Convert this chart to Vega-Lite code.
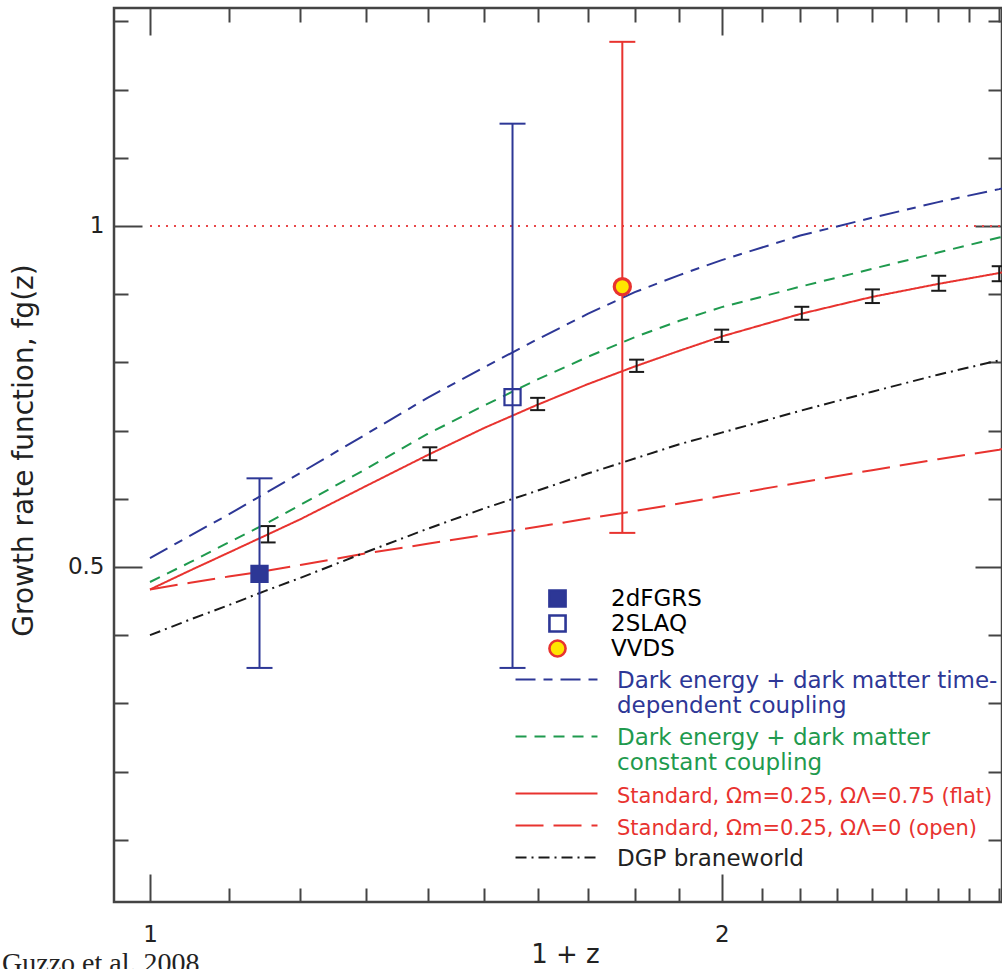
{
  "$schema": "https://vega.github.io/schema/vega-lite/v6.json",
  "width": 888,
  "height": 894,
  "autosize": {"type": "none"},
  "padding": {"left": 114, "top": 8, "right": 0, "bottom": 67},
  "title": {"text": "Guzzo et al. 2008", "orient": "bottom", "anchor": "start", "frame": "group", "font": "Liberation Serif", "fontSize": 28, "fontWeight": "normal", "color": "#222", "dx": -112, "offset": -17, "baseline": "top"},
  "config": {
    "font": "DejaVu Sans",
    "view": {"stroke": "#444", "strokeWidth": 2.5},
    "axis": {"grid": false, "labelColor": "#222", "tickColor": "#444", "tickWidth": 2, "titleColor": "#222", "labelFont": "DejaVu Sans", "titleFont": "DejaVu Sans"},
    "legend": {"labelFont": "DejaVu Sans", "labelFontSize": 23, "padding": 0, "labelLimit": 1000}
  },
  "datasets": {
    "unity": [{"x": 1, "y": 1}, {"x": 2.8095, "y": 1}],
    "curves": [
      {"model": "time", "x": 1.0, "y": 0.513}, {"model": "time", "x": 1.05, "y": 0.546}, {"model": "time", "x": 1.1, "y": 0.577}, {"model": "time", "x": 1.15, "y": 0.608}, {"model": "time", "x": 1.2, "y": 0.638}, {"model": "time", "x": 1.3, "y": 0.695}, {"model": "time", "x": 1.4, "y": 0.748}, {"model": "time", "x": 1.5, "y": 0.793}, {"model": "time", "x": 1.6, "y": 0.834}, {"model": "time", "x": 1.7, "y": 0.871}, {"model": "time", "x": 1.8, "y": 0.903}, {"model": "time", "x": 1.9, "y": 0.928}, {"model": "time", "x": 2.0, "y": 0.950}, {"model": "time", "x": 2.2, "y": 0.986}, {"model": "time", "x": 2.4, "y": 1.012}, {"model": "time", "x": 2.6, "y": 1.035}, {"model": "time", "x": 2.8, "y": 1.054}, {"model": "time", "x": 2.8095, "y": 1.055},
      {"model": "const", "x": 1.0, "y": 0.478}, {"model": "const", "x": 1.05, "y": 0.507}, {"model": "const", "x": 1.1, "y": 0.536}, {"model": "const", "x": 1.15, "y": 0.563}, {"model": "const", "x": 1.2, "y": 0.591}, {"model": "const", "x": 1.3, "y": 0.644}, {"model": "const", "x": 1.4, "y": 0.695}, {"model": "const", "x": 1.5, "y": 0.737}, {"model": "const", "x": 1.6, "y": 0.775}, {"model": "const", "x": 1.7, "y": 0.808}, {"model": "const", "x": 1.8, "y": 0.837}, {"model": "const", "x": 1.9, "y": 0.861}, {"model": "const", "x": 2.0, "y": 0.881}, {"model": "const", "x": 2.2, "y": 0.911}, {"model": "const", "x": 2.4, "y": 0.937}, {"model": "const", "x": 2.6, "y": 0.961}, {"model": "const", "x": 2.8, "y": 0.983}, {"model": "const", "x": 2.8095, "y": 0.984},
      {"model": "flat", "x": 1.0, "y": 0.467}, {"model": "flat", "x": 1.05, "y": 0.495}, {"model": "flat", "x": 1.1, "y": 0.521}, {"model": "flat", "x": 1.15, "y": 0.546}, {"model": "flat", "x": 1.2, "y": 0.570}, {"model": "flat", "x": 1.3, "y": 0.619}, {"model": "flat", "x": 1.4, "y": 0.664}, {"model": "flat", "x": 1.5, "y": 0.704}, {"model": "flat", "x": 1.6, "y": 0.738}, {"model": "flat", "x": 1.7, "y": 0.768}, {"model": "flat", "x": 1.8, "y": 0.794}, {"model": "flat", "x": 1.9, "y": 0.817}, {"model": "flat", "x": 2.0, "y": 0.838}, {"model": "flat", "x": 2.2, "y": 0.871}, {"model": "flat", "x": 2.4, "y": 0.896}, {"model": "flat", "x": 2.6, "y": 0.915}, {"model": "flat", "x": 2.8, "y": 0.931}, {"model": "flat", "x": 2.8095, "y": 0.932},
      {"model": "open", "x": 1.0, "y": 0.467}, {"model": "open", "x": 1.05, "y": 0.477}, {"model": "open", "x": 1.1, "y": 0.486}, {"model": "open", "x": 1.15, "y": 0.494}, {"model": "open", "x": 1.2, "y": 0.503}, {"model": "open", "x": 1.3, "y": 0.520}, {"model": "open", "x": 1.4, "y": 0.534}, {"model": "open", "x": 1.5, "y": 0.547}, {"model": "open", "x": 1.6, "y": 0.559}, {"model": "open", "x": 1.7, "y": 0.571}, {"model": "open", "x": 1.8, "y": 0.582}, {"model": "open", "x": 1.9, "y": 0.593}, {"model": "open", "x": 2.0, "y": 0.604}, {"model": "open", "x": 2.2, "y": 0.624}, {"model": "open", "x": 2.4, "y": 0.642}, {"model": "open", "x": 2.6, "y": 0.658}, {"model": "open", "x": 2.8, "y": 0.672}, {"model": "open", "x": 2.8095, "y": 0.673},
      {"model": "dgp", "x": 1.0, "y": 0.400}, {"model": "dgp", "x": 1.05, "y": 0.423}, {"model": "dgp", "x": 1.1, "y": 0.444}, {"model": "dgp", "x": 1.15, "y": 0.465}, {"model": "dgp", "x": 1.2, "y": 0.484}, {"model": "dgp", "x": 1.3, "y": 0.522}, {"model": "dgp", "x": 1.4, "y": 0.556}, {"model": "dgp", "x": 1.5, "y": 0.586}, {"model": "dgp", "x": 1.6, "y": 0.612}, {"model": "dgp", "x": 1.7, "y": 0.637}, {"model": "dgp", "x": 1.8, "y": 0.659}, {"model": "dgp", "x": 1.9, "y": 0.680}, {"model": "dgp", "x": 2.0, "y": 0.697}, {"model": "dgp", "x": 2.2, "y": 0.729}, {"model": "dgp", "x": 2.4, "y": 0.757}, {"model": "dgp", "x": 2.6, "y": 0.782}, {"model": "dgp", "x": 2.8, "y": 0.803}, {"model": "dgp", "x": 2.8095, "y": 0.804}
    ],
    "forecast": [
      {"x": 1.154, "y": 0.548, "lo": 0.536, "hi": 0.560},
      {"x": 1.404, "y": 0.666, "lo": 0.6565, "hi": 0.6755},
      {"x": 1.600, "y": 0.739, "lo": 0.730, "hi": 0.748},
      {"x": 1.804, "y": 0.795, "lo": 0.786, "hi": 0.804},
      {"x": 2.000, "y": 0.839, "lo": 0.830, "hi": 0.848},
      {"x": 2.204, "y": 0.872, "lo": 0.8625, "hi": 0.8815},
      {"x": 2.401, "y": 0.897, "lo": 0.887, "hi": 0.907},
      {"x": 2.602, "y": 0.916, "lo": 0.905, "hi": 0.927},
      {"x": 2.800, "y": 0.930, "lo": 0.919, "hi": 0.941}
    ],
    "obs": [
      {"survey": "2dFGRS", "x": 1.142, "y": 0.490, "lo": 0.352, "hi": 0.630},
      {"survey": "2SLAQ", "x": 1.552, "y": 0.749, "lo": 0.352, "hi": 1.150},
      {"survey": "VVDS", "x": 1.773, "y": 0.911, "lo": 0.550, "hi": 1.270}
    ]
  },
  "resolve": {"axis": {"x": "independent", "y": "independent"}},
  "layer": [
    {
      "data": {"name": "unity"},
      "mark": {"type": "line", "color": "#e8484a", "strokeWidth": 2, "strokeDash": [2, 6]},
      "encoding": {
        "x": {"field": "x", "type": "quantitative", "scale": {"type": "log", "domain": [0.9573, 2.8095], "nice": false},
          "axis": {"orient": "top", "values": [1, 1.1, 1.2, 1.3, 1.4, 1.5, 1.6, 1.7, 1.8, 1.9, 2, 2.1, 2.2, 2.3, 2.4, 2.5, 2.6, 2.7, 2.8], "labels": false, "domain": false, "title": null,
            "tickSize": {"condition": {"test": "datum.value == 1 || datum.value == 2", "value": -27}, "value": -14}}},
        "y": {"field": "y", "type": "quantitative", "scale": {"domain": [0.0088, 1.3196], "nice": false, "zero": false},
          "axis": {"orient": "right", "values": [0.1, 0.2, 0.3, 0.4, 0.5, 0.6, 0.7, 0.8, 0.9, 1, 1.1, 1.2, 1.3], "labels": false, "domain": false, "title": null,
            "tickSize": {"condition": {"test": "datum.value == 0.5 || datum.value == 1", "value": -27}, "value": -14}}}
      }
    },
    {
      "data": {"name": "curves"},
      "mark": {"type": "line", "strokeWidth": 2},
      "encoding": {
        "x": {"field": "x", "type": "quantitative", "scale": {"type": "log", "domain": [0.9573, 2.8095], "nice": false},
          "axis": {"orient": "bottom", "values": [1, 2], "ticks": false, "domain": false, "format": "~g", "labelFontSize": 23, "labelPadding": 21,
            "title": "1 + z", "titleFontSize": 26, "titleFontWeight": "normal", "titleX": 451, "titleY": 52, "titleBaseline": "middle", "titleAlign": "center"}},
        "y": {"field": "y", "type": "quantitative", "scale": {"domain": [0.0088, 1.3196], "nice": false, "zero": false},
          "axis": {"orient": "left", "values": [0.5, 1], "ticks": false, "domain": false, "format": "~g", "labelFontSize": 23, "labelPadding": 10,
            "title": "Growth rate function, fg(z)", "titleFontSize": 28, "titleFontWeight": "normal", "titleX": -90, "titleY": 442, "titleAngle": -90, "titleBaseline": "middle", "titleAlign": "center"}},
        "color": {"field": "model", "type": "nominal",
          "scale": {"domain": ["time", "const", "flat", "open", "dgp"], "range": ["#2d3796", "#1f9a4e", "#e8332f", "#e8332f", "#1a1a1a"]},
          "legend": {"orient": "none", "legendX": 431, "legendY": 660, "title": null, "symbolType": "M-4,0H4", "symbolSize": 420, "symbolStrokeWidth": 2,
            "labelFontSize": 23, "labelBaseline": "top", "labelOffset": 49, "rowPadding": 7, "labelLimit": 1000,
            "labelExpr": "datum.value == 'time' ? ['Dark energy + dark matter time-', 'dependent coupling'] : datum.value == 'const' ? ['Dark energy + dark matter', 'constant coupling'] : datum.value == 'flat' ? 'Standard, Ωm=0.25, ΩΛ=0.75 (flat)' : datum.value == 'open' ? 'Standard, Ωm=0.25, ΩΛ=0 (open)' : 'DGP braneworld'",
            "encode": {"labels": {"update": {
              "fill": {"signal": "datum.value == 'time' ? '#2d3796' : datum.value == 'const' ? '#1f9a4e' : datum.value == 'dgp' ? '#222222' : '#e8332f'"},
              "fontSize": {"signal": "datum.value == 'flat' || datum.value == 'open' ? 21 : 23"},
              "dy": {"signal": "datum.value == 'flat' || datum.value == 'open' ? -8 : -10"},
              "lineHeight": {"value": 25}}}}}},
        "strokeDash": {"field": "model", "type": "nominal",
          "scale": {"domain": ["time", "const", "flat", "open", "dgp"], "range": [[20, 8, 9, 8], [11, 8], [1, 0], [28, 10], [11, 5, 2, 5]]}}
      }
    },
    {
      "data": {"name": "forecast"},
      "mark": {"type": "rule", "color": "#1a1a1a", "strokeWidth": 2},
      "encoding": {
        "x": {"field": "x", "type": "quantitative", "scale": {"type": "log", "domain": [0.9573, 2.8095], "nice": false},
          "axis": {"orient": "bottom", "values": [1, 1.1, 1.2, 1.3, 1.4, 1.5, 1.6, 1.7, 1.8, 1.9, 2, 2.1, 2.2, 2.3, 2.4, 2.5, 2.6, 2.7, 2.8], "labels": false, "domain": false, "title": null,
            "tickSize": {"condition": {"test": "datum.value == 1 || datum.value == 2", "value": -28}, "value": -14}}},
        "y": {"field": "lo", "type": "quantitative", "scale": {"domain": [0.0088, 1.3196], "nice": false, "zero": false},
          "axis": {"orient": "left", "values": [0.1, 0.2, 0.3, 0.4, 0.5, 0.6, 0.7, 0.8, 0.9, 1, 1.1, 1.2, 1.3], "labels": false, "domain": false, "title": null,
            "tickSize": {"condition": {"test": "datum.value == 0.5 || datum.value == 1", "value": -28}, "value": -14}}},
        "y2": {"field": "hi"}
      }
    },
    {
      "data": {"name": "forecast"},
      "mark": {"type": "tick", "orient": "horizontal", "size": 15, "thickness": 2, "color": "#1a1a1a", "opacity": 1},
      "encoding": {
        "x": {"field": "x", "type": "quantitative", "scale": {"type": "log", "domain": [0.9573, 2.8095], "nice": false}, "axis": null},
        "y": {"field": "lo", "type": "quantitative", "scale": {"domain": [0.0088, 1.3196], "nice": false, "zero": false}, "axis": null}
      }
    },
    {
      "data": {"name": "forecast"},
      "mark": {"type": "tick", "orient": "horizontal", "size": 15, "thickness": 2, "color": "#1a1a1a", "opacity": 1},
      "encoding": {
        "x": {"field": "x", "type": "quantitative", "scale": {"type": "log", "domain": [0.9573, 2.8095], "nice": false}, "axis": null},
        "y": {"field": "hi", "type": "quantitative", "scale": {"domain": [0.0088, 1.3196], "nice": false, "zero": false}, "axis": null}
      }
    },
    {
      "data": {"name": "obs"},
      "mark": {"type": "rule", "strokeWidth": 2},
      "encoding": {
        "x": {"field": "x", "type": "quantitative", "scale": {"type": "log", "domain": [0.9573, 2.8095], "nice": false}, "axis": null},
        "y": {"field": "lo", "type": "quantitative", "scale": {"domain": [0.0088, 1.3196], "nice": false, "zero": false}, "axis": null},
        "y2": {"field": "hi"},
        "color": {"condition": {"test": "datum.survey == 'VVDS'", "value": "#e8332f"}, "value": "#2d3796"}
      }
    },
    {
      "data": {"name": "obs"},
      "mark": {"type": "tick", "orient": "horizontal", "size": 26, "thickness": 2, "opacity": 1},
      "encoding": {
        "x": {"field": "x", "type": "quantitative", "scale": {"type": "log", "domain": [0.9573, 2.8095], "nice": false}, "axis": null},
        "y": {"field": "lo", "type": "quantitative", "scale": {"domain": [0.0088, 1.3196], "nice": false, "zero": false}, "axis": null},
        "color": {"condition": {"test": "datum.survey == 'VVDS'", "value": "#e8332f"}, "value": "#2d3796"}
      }
    },
    {
      "data": {"name": "obs"},
      "mark": {"type": "tick", "orient": "horizontal", "size": 26, "thickness": 2, "opacity": 1},
      "encoding": {
        "x": {"field": "x", "type": "quantitative", "scale": {"type": "log", "domain": [0.9573, 2.8095], "nice": false}, "axis": null},
        "y": {"field": "hi", "type": "quantitative", "scale": {"domain": [0.0088, 1.3196], "nice": false, "zero": false}, "axis": null},
        "color": {"condition": {"test": "datum.survey == 'VVDS'", "value": "#e8332f"}, "value": "#2d3796"}
      }
    },
    {
      "data": {"name": "obs"},
      "mark": {"type": "point", "strokeWidth": 2.5, "opacity": 1},
      "encoding": {
        "x": {"field": "x", "type": "quantitative", "scale": {"type": "log", "domain": [0.9573, 2.8095], "nice": false}, "axis": null},
        "y": {"field": "y", "type": "quantitative", "scale": {"domain": [0.0088, 1.3196], "nice": false, "zero": false}, "axis": null},
        "strokeWidth": {"condition": {"test": "datum.survey == 'VVDS'", "value": 3.2}, "value": 2.2},
        "shape": {"field": "survey", "type": "nominal", "scale": {"domain": ["2dFGRS", "2SLAQ", "VVDS"], "range": ["square", "square", "circle"]},
          "legend": {"orient": "none", "legendX": 432, "legendY": 579, "title": null, "labelFontSize": 23, "labelOffset": 42, "rowPadding": -3, "symbolStrokeWidth": 2.6, "labelLimit": 1000,
            "encode": {"labels": {"update": {"fill": {"signal": "datum.value == 'VVDS' ? '#e8332f' : '#222222'"}}}}}},
        "fill": {"field": "survey", "type": "nominal", "scale": {"domain": ["2dFGRS", "2SLAQ", "VVDS"], "range": ["#2d3796", "transparent", "#ffe500"]}},
        "stroke": {"field": "survey", "type": "nominal", "scale": {"domain": ["2dFGRS", "2SLAQ", "VVDS"], "range": ["#2d3796", "#2d3796", "#e8332f"]}},
        "size": {"field": "survey", "type": "nominal", "scale": {"domain": ["2dFGRS", "2SLAQ", "VVDS"], "range": [260, 260, 500]}}
      }
    }
  ]
}
